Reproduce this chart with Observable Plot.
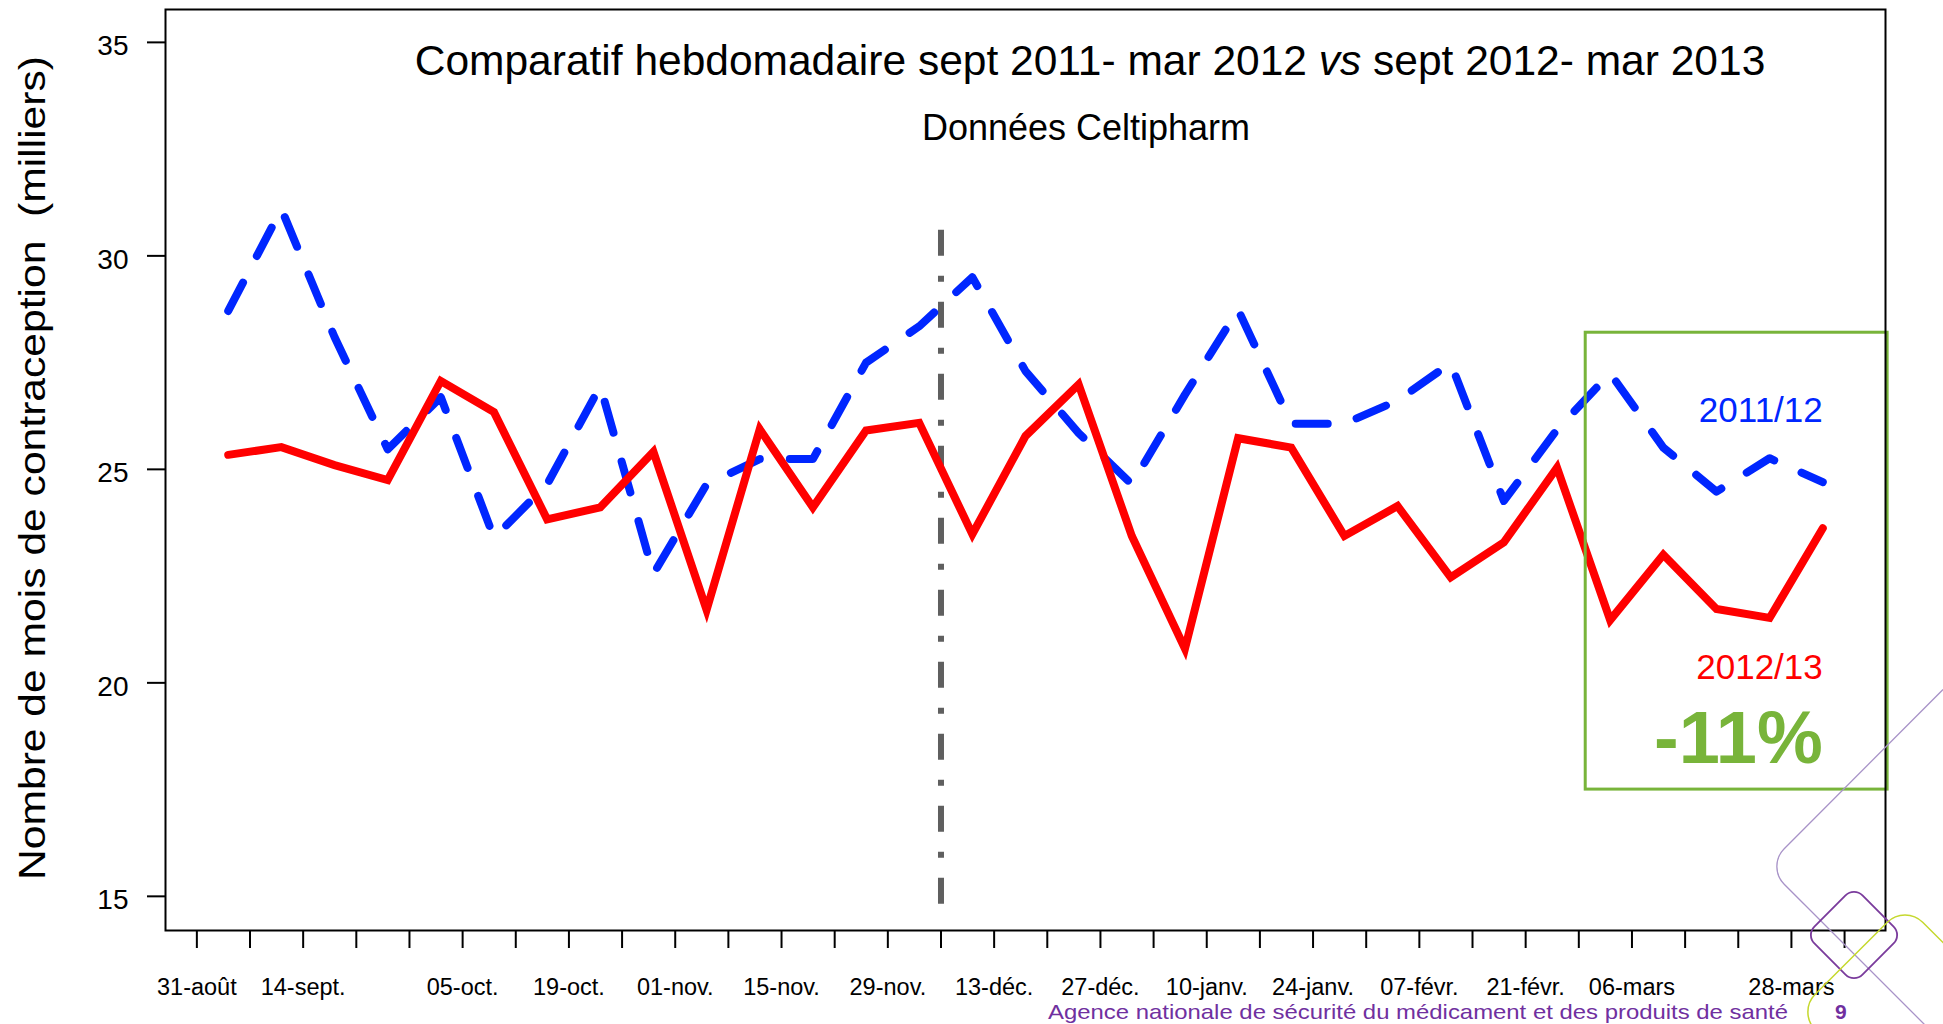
<!DOCTYPE html>
<html>
<head>
<meta charset="utf-8">
<script src="https://cdn.jsdelivr.net/npm/d3@7"></script>
<script src="https://cdn.jsdelivr.net/npm/@observablehq/plot@0.6"></script>
<style>
  body { margin: 0; background: #fff; }
  #chart { position: relative; width: 1943px; height: 1024px; overflow: hidden; }
</style>
</head>
<body>
<div id="chart"></div>
<script>
// ---- data ----
const weeks = d3.range(1, 32); // 31 weekly points
const series2011 = [28.71, 31.1, 28.1, 25.47, 26.69, 23.4, 24.65, 26.95, 22.55, 24.65,
  25.24, 25.24, 27.5, 28.35, 29.5, 27.3, 25.85, 24.65, 26.75, 28.74,
  26.07, 26.07, 26.61, 27.49, 24.26, 25.93, 27.25, 25.51, 24.48, 25.26, 24.7];
const series2012 = [25.34, 25.52, 25.1, 24.75, 27.07, 26.34, 23.83, 24.11, 25.41, 21.71,
  25.94, 24.11, 25.91, 26.09, 23.48, 25.78, 26.99, 23.44, 20.8, 25.73,
  25.51, 23.44, 24.14, 22.47, 23.29, 25.04, 21.47, 23.0, 21.73, 21.52, 23.62];
const tickIndex = d3.range(1, 33); // 32 axis ticks
const tickLabels = {1: "31-août", 3: "14-sept.", 6: "05-oct.", 8: "19-oct.", 10: "01-nov.",
  12: "15-nov.", 14: "29-nov.", 16: "13-déc.", 18: "27-déc.", 20: "10-janv.", 22: "24-janv.",
  24: "07-févr.", 26: "21-févr.", 28: "06-mars", 31: "28-mars"};
const yTicks = [15, 20, 25, 30, 35];
const separatorTick = 15;
const separatorRange = [30.6, 14.6];
const highlightBox = {x1: 26.54, x2: 32.22, y1: 17.5, y2: 28.2};
const seriesNames = ["2011/12", "2012/13"];
const changeLabel = "-11%";

// ---- styles ----
const BLUE = "#0026ff", RED = "#ff0000", GREEN = "#78b43a", GREY = "#5f5f5f", PURPLE = "#70309f";
const tickOffset = -0.59;
const tickPos = tickIndex.map(i => i + tickOffset);
const labelAt = new Map(tickIndex.map((i, k) => [tickPos[k], tickLabels[i] ?? ""]));

const rows2011 = weeks.map((w, i) => ({week: w, value: series2011[i]}));
const rows2012 = weeks.map((w, i) => ({week: w, value: series2012[i]}));
const lastWeek = weeks[weeks.length - 1];
const annotations = [
  {text: seriesNames[0], x: lastWeek, y: 26.38, fill: BLUE, size: 35, weight: "normal"},
  {text: seriesNames[1], x: lastWeek, y: 20.36, fill: RED, size: 35, weight: "normal"},
  {text: changeLabel, x: lastWeek, y: 18.67, fill: GREEN, size: 74, weight: "bold"}
];

const FONT = "'Liberation Sans', Arial, Helvetica, sans-serif";

const svg = Plot.plot({
  width: 1943,
  height: 1024,
  marginLeft: 165,
  marginRight: 58,
  marginTop: 9,
  marginBottom: 94,
  style: {fontFamily: FONT, background: "white", color: "black", overflow: "visible"},
  x: {domain: [-0.18, 32.18]},
  y: {domain: [14.2, 35.77]},
  marks: [
    Plot.axisY({ticks: yTicks, tickSize: 18, strokeWidth: 2, label: null, tickFormat: () => ""}),
    Plot.text(yTicks, {y: d => d, frameAnchor: "left", textAnchor: "end", dx: -37, dy: 4, fontSize: 28, text: d => String(d)}),
    Plot.axisX({ticks: tickPos, tickSize: 18, tickPadding: 30, fontSize: 23.5, strokeWidth: 2, label: null,
      tickFormat: d => labelAt.get(d) ?? ""}),
    Plot.ruleX([separatorTick + tickOffset], {y1: separatorRange[0], y2: separatorRange[1], stroke: GREY,
      strokeWidth: 6, strokeDasharray: "26,20,6,20"}),
    Plot.line(rows2011, {x: "week", y: "value", stroke: BLUE, strokeWidth: 8,
      strokeDasharray: "32,30", strokeLinecap: "round", strokeLinejoin: "round"}),
    Plot.line(rows2012, {x: "week", y: "value", stroke: RED, strokeWidth: 8,
      strokeLinecap: "round", strokeLinejoin: "miter", strokeMiterlimit: 10}),
    Plot.rect([highlightBox], {x1: "x1", x2: "x2", y1: "y1", y2: "y2", fill: "none", stroke: GREEN, strokeWidth: 3}),
    Plot.text(annotations, {x: "x", y: "y", text: "text", fill: d => d.fill, textAnchor: "end"}),
    Plot.frame({stroke: "black", strokeWidth: 2})
  ]
});

document.getElementById("chart").appendChild(svg);

const s = d3.select(svg);
// remove empty tick labels
s.selectAll("text").filter(function() { return this.textContent === ""; }).remove();
// annotation sizes / weights
s.selectAll("text").each(function() {
  const t = d3.select(this);
  const a = annotations.find(d => d.text === t.text());
  if (a) t.attr("font-size", a.size).attr("font-weight", a.weight);
});

// Title & subtitle
const title = s.append("text").attr("x", 1090).attr("y", 75).attr("text-anchor", "middle")
  .attr("font-size", 42.5).attr("font-family", FONT).attr("fill", "black");
title.append("tspan").text("Comparatif hebdomadaire sept 2011- mar 2012 ");
title.append("tspan").attr("font-style", "italic").text("vs");
title.append("tspan").text(" sept 2012- mar 2013");

s.append("text").attr("x", 1086).attr("y", 140).attr("text-anchor", "middle")
  .attr("font-size", 36).attr("font-family", FONT).text("Données Celtipharm");

// Y axis title
s.append("text").attr("transform", "translate(45,468) rotate(-90)").attr("text-anchor", "middle")
  .attr("font-size", 36).attr("font-family", FONT)
  .attr("textLength", 824).attr("lengthAdjust", "spacingAndGlyphs")
  .text("Nombre de mois de contraception  (milliers)");

// Decorations (slide template)
const deco = s.append("g").attr("fill", "none");
deco.append("path").attr("d", "M1943,689.5 L1784.2,848.8 A25,25 0 0 0 1784.2,884.2 L1943,1043")
  .attr("stroke", "#a893c8").attr("stroke-width", 1.3);
deco.append("rect").attr("x", -34).attr("y", -34).attr("width", 68).attr("height", 68).attr("rx", 12)
  .attr("transform", "translate(1854,935) rotate(45)").attr("stroke", "#7a3b9c").attr("stroke-width", 1.8);
deco.append("rect").attr("x", -76).attr("y", -76).attr("width", 152).attr("height", 152).attr("rx", 25)
  .attr("transform", "translate(1905,1012) rotate(45)").attr("stroke", "#c5d82e").attr("stroke-width", 1.5);

// Footer
s.append("text").attr("x", 1048).attr("y", 1019).attr("text-anchor", "start").attr("font-size", 21)
  .attr("font-family", FONT).attr("fill", PURPLE).attr("textLength", 740).attr("lengthAdjust", "spacingAndGlyphs")
  .text("Agence nationale de sécurité du médicament et des produits de santé");
s.append("text").attr("x", 1835).attr("y", 1019).attr("text-anchor", "start").attr("font-size", 21)
  .attr("font-weight", "bold").attr("font-family", FONT).attr("fill", PURPLE).text("9");
</script>
</body>
</html>
